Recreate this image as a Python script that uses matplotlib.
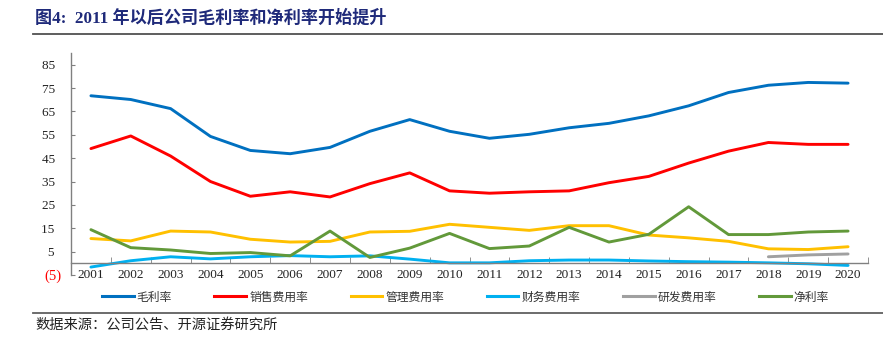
import numpy as np
import matplotlib
matplotlib.use("Agg")
import matplotlib.pyplot as plt
from matplotlib.lines import Line2D

plt.rcParams['font.family'] = ['Liberation Serif', 'Noto Sans CJK SC']

years = [str(y) for y in range(2001, 2021)]

gross_margin = [71.7, 70.1, 66.2, 54.3, 48.3, 46.9, 49.6, 56.5, 61.5, 56.5,
                53.5, 55.2, 58.0, 59.9, 63.1, 67.4, 73.1, 76.2, 77.4, 77.1]
selling_exp = [49.1, 54.5, 45.9, 35.0, 28.7, 30.6, 28.4, 34.1, 38.7, 31.0,
               30.0, 30.6, 31.0, 34.5, 37.2, 42.9, 48.0, 51.7, 50.9, 50.9]
admin_exp = [10.6, 9.6, 13.8, 13.4, 10.3, 9.1, 9.4, 13.4, 13.7, 16.7,
             15.4, 14.1, 16.1, 16.1, 12.1, 10.9, 9.4, 6.2, 5.9, 7.1]
finance_exp = [-1.6, 1.1, 2.8, 1.9, 2.8, 3.3, 2.8, 3.2, 1.8, 0.2,
               0.2, 1.1, 1.4, 1.4, 1.0, 0.7, 0.5, 0.2, -0.2, -0.9]
rd_exp = [np.nan] * 17 + [2.8, 3.6, 4.0]
net_margin = [14.4, 6.7, 5.7, 4.2, 4.6, 3.2, 13.8, 2.5, 6.5, 12.8,
              6.3, 7.4, 15.4, 9.1, 12.4, 24.2, 12.3, 12.3, 13.4, 13.8]

series = [
    ("毛利率", gross_margin, "#0070C0"),
    ("销售费用率", selling_exp, "#FF0000"),
    ("管理费用率", admin_exp, "#FFC000"),
    ("财务费用率", finance_exp, "#00B0F0"),
    ("研发费用率", rd_exp, "#A0A0A0"),
    ("净利率", net_margin, "#62993A"),
]

yticks = list(range(-5, 86, 10))

W, H = 883, 342
fig = plt.figure(figsize=(W / 100, H / 100), dpi=100)
ax = fig.add_axes([71 / W, 1 - 275 / H, (868 - 71) / W, (275 - 53) / H])

x = np.arange(len(years))
for name, vals, color in series:
    ax.plot(x, vals, color=color, lw=2.1, solid_capstyle='round', label=name)

ax.set_xlim(-0.5, len(years) - 0.5)
ax.set_ylim(-5, 90)

axis_color = "#808080"
for s in ("top", "right"):
    ax.spines[s].set_visible(False)
ax.spines["bottom"].set_position(("data", 0))
ax.spines["bottom"].set_color(axis_color)
ax.spines["left"].set_color(axis_color)
ax.spines["bottom"].set_linewidth(1.0)
ax.spines["left"].set_linewidth(1.0)

ax.set_xticks(x)
ax.set_xticklabels(years)
ax.set_xticks(np.arange(-0.5, len(years), 1.0), minor=True)
ax.tick_params(axis="x", which="major", length=0, pad=4, labelsize=9.5, labelcolor="#222222")
ax.tick_params(axis="x", which="minor", direction="in", length=4, color=axis_color)

ax.set_yticks(yticks)
ax.set_yticklabels([f"({-v})" if v < 0 else f"{v}\u2002" for v in yticks])
ax.tick_params(axis="y", direction="in", length=3, color=axis_color, pad=7,
               labelsize=9.5, labelcolor="#222222")
for lbl, v in zip(ax.get_yticklabels(), yticks):
    if v < 0:
        lbl.set_color("#FF0000")
        lbl.set_fontsize(10.5)

handles = [Line2D([], [], color=c, lw=2.2) for _, _, c in series]
leg = fig.legend(handles, [n for n, _, _ in series], loc="center",
                 bbox_to_anchor=(0.527, 1 - 297 / H), ncol=6, frameon=False,
                 prop={"family": "Noto Sans CJK SC", "size": 8.5},
                 handlelength=2.7, handletextpad=0.25, columnspacing=3.6)
for t in leg.get_texts():
    t.set_color("#333333")

fig.text(35 / W, 1 - 18 / H, "图4:  2011 年以后公司毛利率和净利率开始提升",
         fontsize=12.3, fontweight="bold", color="#1F2A7A",
         family=["Liberation Serif", "Noto Sans CJK SC"], va="center", ha="left")
fig.add_artist(Line2D([33 / W, 1.0], [1 - 33.5 / H, 1 - 33.5 / H],
                      color="#505050", lw=1.3, transform=fig.transFigure))
fig.add_artist(Line2D([33 / W, 1.0], [1 - 313 / H, 1 - 313 / H],
                      color="#606060", lw=1.3, transform=fig.transFigure))
fig.text(35 / W, 1 - 325 / H, "数据来源：公司公告、开源证券研究所",
         fontsize=10.3, color="#222222", family=["Noto Sans CJK SC"],
         va="center", ha="left")

fig.savefig("out.png", dpi=100)
